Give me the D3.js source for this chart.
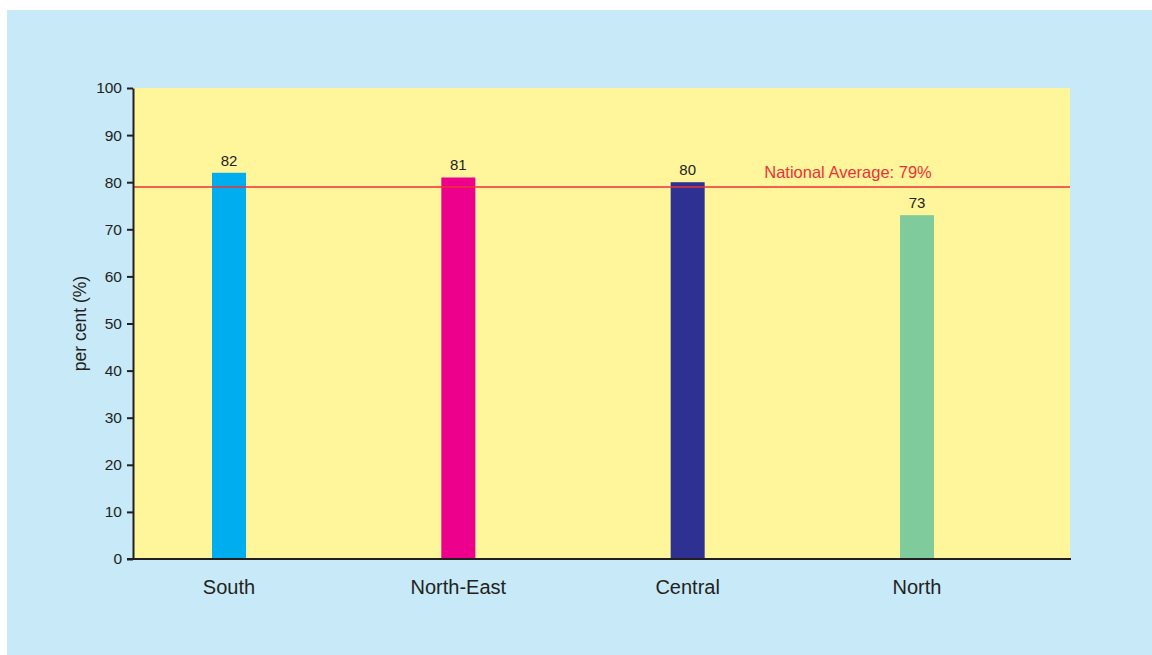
<!DOCTYPE html>
<meta charset="utf-8">
<style>
body { margin: 0; background: #fff; }
svg { display: block; font-family: "Liberation Sans", Arial, sans-serif; }
.tick text { fill: #231f20; }
</style>
<html>
  <head>
    <script src="https://cdn.jsdelivr.net/npm/d3@7/dist/d3.min.js"></script>
  </head>
  <body>
    <script>
// data
var regions = ["South", "North-East", "Central", "North"];
var values = [82, 81, 80, 73];
var barColors = ["#00aeef", "#ec008c", "#2e3192", "#80cb9c"];
var yTicks = [0, 10, 20, 30, 40, 50, 60, 70, 80, 90, 100];
var nationalAverage = 79;

var width = 1152, height = 655;
var plot = {left: 133, top: 88, right: 1070, bottom: 559};

var svg = d3.select("body").append("svg")
    .attr("width", width)
    .attr("height", height);

// background panel
svg.append("rect")
    .attr("x", 7).attr("y", 10)
    .attr("width", width - 7).attr("height", height - 10)
    .attr("fill", "#c7e9f8");

svg.append("rect")
    .attr("x", plot.left).attr("y", plot.top)
    .attr("width", plot.right - plot.left).attr("height", plot.bottom - plot.top)
    .attr("fill", "#fff59b");

var y = d3.scaleLinear().domain([0, 100]).range([plot.bottom, plot.top]);
var x = d3.scalePoint().domain(regions).range([229, 917]);
var barW = 34;

// bars
svg.selectAll(".bar").data(regions).enter().append("rect")
    .attr("class", "bar")
    .attr("x", function(d) { return x(d) - barW / 2; })
    .attr("y", function(d, i) { return y(values[i]); })
    .attr("width", barW)
    .attr("height", function(d, i) { return plot.bottom - y(values[i]); })
    .attr("fill", function(d, i) { return barColors[i]; });

// value labels
svg.selectAll(".val").data(regions).enter().append("text")
    .attr("class", "val")
    .attr("x", function(d) { return x(d); })
    .attr("y", function(d, i) { return y(values[i]) - 7; })
    .attr("text-anchor", "middle")
    .attr("font-size", 15)
    .attr("fill", "#231f20")
    .text(function(d, i) { return values[i]; });

// national average line
svg.append("line")
    .attr("x1", plot.left).attr("x2", plot.right)
    .attr("y1", y(nationalAverage)).attr("y2", y(nationalAverage))
    .attr("stroke", "#ed3237").attr("stroke-width", 1.5);

svg.append("text")
    .attr("x", 848).attr("y", y(nationalAverage) - 9)
    .attr("text-anchor", "middle")
    .attr("font-size", 16.5)
    .attr("fill", "#ed3237")
    .text("National Average: " + nationalAverage + "%");

// y axis
var yAxis = svg.append("g")
    .attr("transform", "translate(" + plot.left + ",0)")
    .call(d3.axisLeft(y).tickValues(yTicks).tickSize(6).tickPadding(5).tickSizeOuter(0));
yAxis.select(".domain").attr("stroke", "#231f20").attr("stroke-width", 2);
yAxis.selectAll(".tick line").attr("stroke", "#231f20").attr("stroke-width", 2);
yAxis.selectAll(".tick text").attr("font-size", 15.5).attr("font-family", "Liberation Sans, Arial, sans-serif");

// x axis line
svg.append("line")
    .attr("x1", plot.left - 6).attr("x2", plot.right + 1)
    .attr("y1", plot.bottom).attr("y2", plot.bottom)
    .attr("stroke", "#231f20").attr("stroke-width", 2);

svg.selectAll(".cat").data(regions).enter().append("text")
    .attr("class", "cat")
    .attr("x", function(d) { return x(d); })
    .attr("y", 594)
    .attr("text-anchor", "middle")
    .attr("font-size", 20)
    .attr("fill", "#231f20")
    .text(function(d) { return d; });

// y label
svg.append("text")
    .attr("transform", "translate(86," + ((plot.top + plot.bottom) / 2) + ") rotate(-90)")
    .attr("text-anchor", "middle")
    .attr("font-size", 17.5)
    .attr("fill", "#231f20")
    .text("per cent (%)");
    </script>
  </body>
</html>
